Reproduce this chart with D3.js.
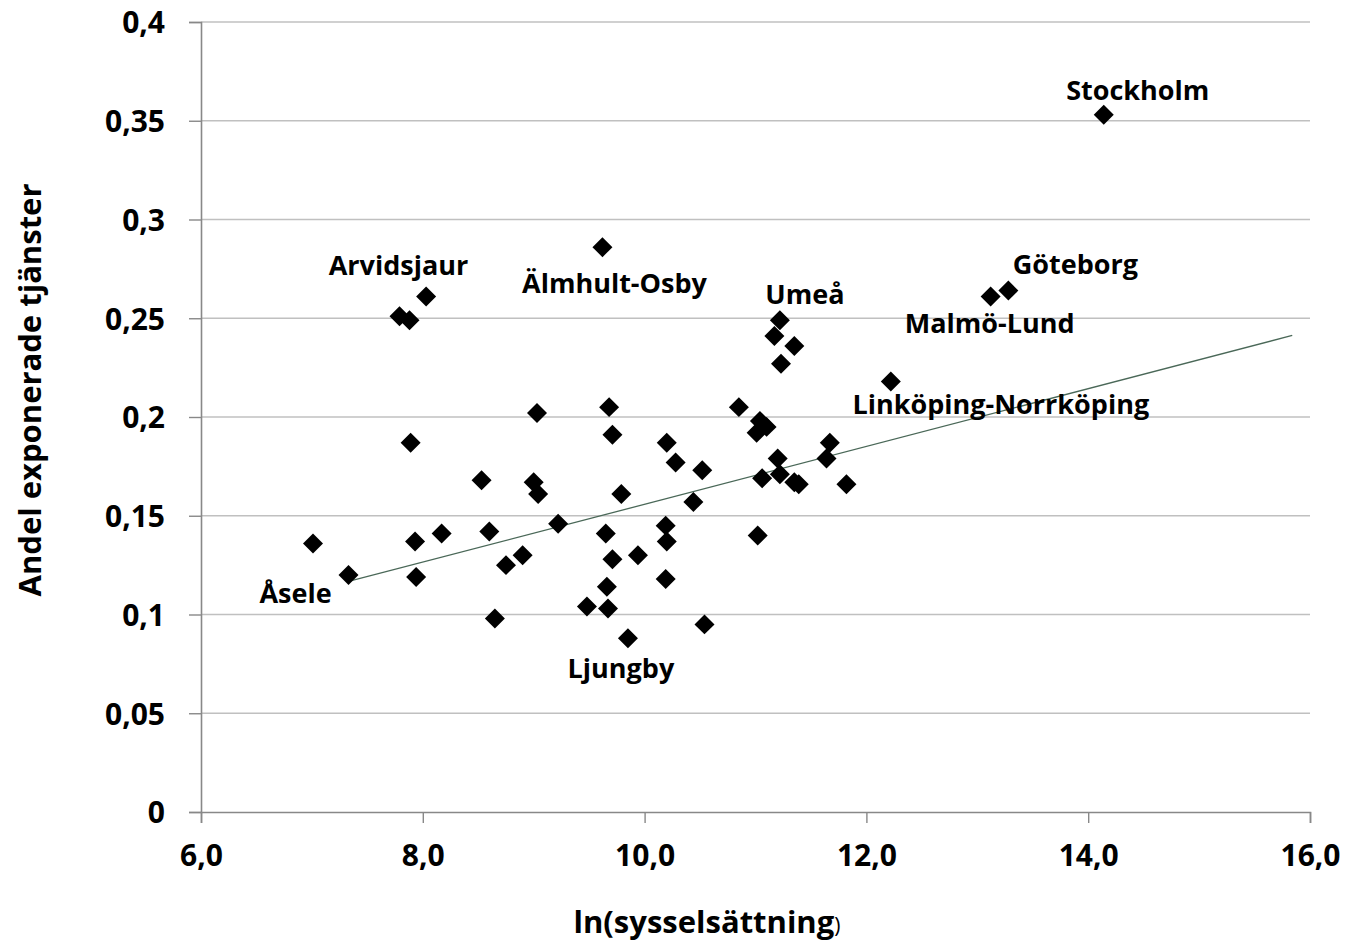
<!DOCTYPE html>
<html>
<head>
<meta charset="utf-8">
<script src="https://cdn.jsdelivr.net/npm/d3@7/dist/d3.min.js"></script>
<style>
  body { margin: 0; background: #fff; }
  svg { display: block; font-family: "Open Sans", "Liberation Sans", sans-serif; }
</style>
</head>
<body>
<svg id="chart" width="1347" height="945"></svg>
<script>
// ln(sysselsättning) per region
var lnEmp = [14.14, 13.28, 13.12, 12.22, 8.03, 7.79, 7.88, 9.62, 11.22, 11.17,
             11.35, 11.23, 9.68, 10.85, 11.04, 11.10, 11.01, 9.71, 10.20, 10.28,
             10.52, 11.67, 11.64, 11.20, 11.22, 11.06, 11.35, 11.39, 11.82, 9.79,
             10.44, 9.65, 10.19, 10.20, 11.02, 9.03, 7.89, 8.53, 9.00, 9.04,
             9.22, 7.01, 7.93, 8.17, 8.60, 8.90, 8.75, 9.71, 9.94, 7.33,
             7.94, 9.66, 10.19, 9.48, 9.67, 8.65, 9.85, 10.54];

// andel exponerade tjänster
var share = [0.353, 0.264, 0.261, 0.218, 0.261, 0.251, 0.249, 0.286, 0.249, 0.241,
             0.236, 0.227, 0.205, 0.205, 0.198, 0.195, 0.192, 0.191, 0.187, 0.177,
             0.173, 0.187, 0.179, 0.179, 0.171, 0.169, 0.167, 0.166, 0.166, 0.161,
             0.157, 0.141, 0.145, 0.137, 0.140, 0.202, 0.187, 0.168, 0.167, 0.161,
             0.146, 0.136, 0.137, 0.141, 0.142, 0.130, 0.125, 0.128, 0.130, 0.120,
             0.119, 0.114, 0.118, 0.104, 0.103, 0.098, 0.088, 0.095];

// named regions: index into the arrays above
var labelNames = ["Stockholm", "Göteborg", "Malmö-Lund", "Linköping-Norrköping",
                  "Arvidsjaur", "Älmhult-Osby", "Umeå", "Åsele", "Ljungby"];
var labelIndex = [0, 1, 2, 3, 5, 7, 8, 49, 56];

// linear trend (Excel trendline)
var trendSlope = 0.01464;
var trendIntercept = 0.0094;
var trendRange = [7.33, 15.84];

var xTicks = [6, 8, 10, 12, 14, 16];
var yTicks = [0, 0.05, 0.1, 0.15, 0.2, 0.25, 0.3, 0.35, 0.4];

// label placement, pixels from the point
var labelOffset = [[34, -15], [67, -17], [-1, 36], [110, 33],
                   [-1, -41], [12, 46], [25, -16], [-53, 28], [-7, 40]];

(function() {
    var svg = d3.select("#chart");
    var mLeft = 201, mRight = 1310, mTop = 22, mBottom = 812;

    var x = d3.scaleLinear().domain([6, 16]).range([mLeft, mRight]);
    var y = d3.scaleLinear().domain([0, 0.4]).range([mBottom, mTop]);

    // gridlines
    svg.append("g")
        .selectAll("line")
        .data(yTicks.filter(function(d) { return d > 0; }))
        .enter().append("line")
        .attr("x1", mLeft).attr("x2", mRight)
        .attr("y1", function(d) { return y(d); })
        .attr("y2", function(d) { return y(d); })
        .attr("stroke", "#c0c0c0")
        .attr("stroke-width", 1.6);

    // y axis
    var yAxis = svg.append("g")
        .attr("transform", "translate(" + mLeft + ",0)")
        .call(d3.axisLeft(y).tickValues(yTicks).tickSize(12).tickPadding(24)
            .tickFormat(function(d) { return d === 0 ? "0" : String(d).replace(".", ","); }));

    // x axis
    var xAxis = svg.append("g")
        .attr("transform", "translate(0," + mBottom + ")")
        .call(d3.axisBottom(x).tickValues(xTicks).tickSize(11).tickPadding(20)
            .tickFormat(function(d) { return d3.format(".1f")(d).replace(".", ","); }));

    [yAxis, xAxis].forEach(function(ax) {
        ax.attr("font-family", null).attr("font-size", null);
        ax.select(".domain").attr("stroke", "#888888").attr("stroke-width", 1.6);
        ax.selectAll(".tick line").attr("stroke", "#888888").attr("stroke-width", 1.4);
        ax.selectAll(".tick text")
            .attr("fill", "#000")
            .attr("font-weight", "bold")
            .style("font-size", "30px");
    });
    yAxis.selectAll(".tick text").attr("x", -36).attr("dy", "0.36em");
    xAxis.selectAll(".tick text").attr("y", 33).attr("dy", "0.71em");

    // trendline
    svg.append("line")
        .attr("x1", x(trendRange[0]))
        .attr("y1", y(trendIntercept + trendSlope * trendRange[0]))
        .attr("x2", x(trendRange[1]))
        .attr("y2", y(trendIntercept + trendSlope * trendRange[1]))
        .attr("stroke", "#4a6858")
        .attr("stroke-width", 1.3);

    // points
    var points = lnEmp.map(function(v, i) { return {x: v, y: share[i]}; });
    var diamond = d3.symbol().type(d3.symbolSquare).size(200);

    svg.append("g")
        .selectAll("path")
        .data(points)
        .enter().append("path")
        .attr("d", diamond)
        .attr("fill", "#000")
        .attr("transform", function(d) {
            return "translate(" + x(d.x) + "," + y(d.y) + ") rotate(45)";
        });

    // data labels
    svg.append("g")
        .selectAll("text")
        .data(labelNames)
        .enter().append("text")
        .attr("x", function(d, i) { return x(lnEmp[labelIndex[i]]) + labelOffset[i][0]; })
        .attr("y", function(d, i) { return y(share[labelIndex[i]]) + labelOffset[i][1]; })
        .attr("text-anchor", "middle")
        .attr("font-weight", "bold")
        .style("font-size", "27px")
        .text(function(d) { return d; });

    // axis titles
    var xTitle = svg.append("text")
        .attr("x", 707)
        .attr("y", 933)
        .attr("text-anchor", "middle")
        .attr("font-weight", "bold")
        .style("font-size", "31px");
    xTitle.append("tspan").text("ln(sysselsättning");
    xTitle.append("tspan").attr("font-weight", "normal").style("font-size", "21px").text(")");

    svg.append("text")
        .attr("transform", "translate(41,390) rotate(-90)")
        .attr("text-anchor", "middle")
        .attr("font-weight", "bold")
        .style("font-size", "31px")
        .text("Andel exponerade tjänster");
})();
</script>
</body>
</html>
